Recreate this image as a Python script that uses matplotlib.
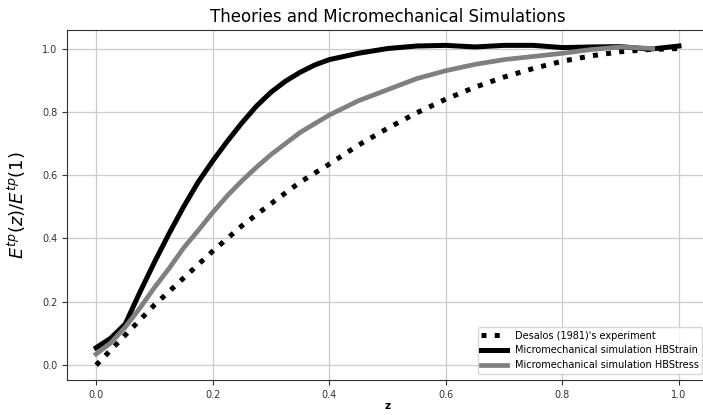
import matplotlib
matplotlib.use('Agg')
import matplotlib.pyplot as plt

# Desalos (1981) experiment
z_exp = [0.0, 0.05, 0.1, 0.15, 0.2, 0.25, 0.3, 0.35, 0.4, 0.45, 0.5,
         0.55, 0.6, 0.65, 0.7, 0.75, 0.8, 0.85, 0.9, 0.95, 1.0]
e_exp = [0.0, 0.095, 0.19, 0.275, 0.36, 0.44, 0.51, 0.578, 0.635, 0.695, 0.748,
         0.797, 0.84, 0.878, 0.91, 0.937, 0.96, 0.977, 0.99, 0.997, 1.0]

# micromechanical simulation, HB strain
z_strain = [0.0, 0.025, 0.05, 0.075, 0.1, 0.125, 0.15, 0.175, 0.2, 0.225, 0.25,
            0.275, 0.3, 0.325, 0.35, 0.375, 0.4, 0.45, 0.5, 0.55, 0.6, 0.65,
            0.7, 0.75, 0.8, 0.85, 0.9, 0.95, 1.0]
e_strain = [0.055, 0.085, 0.13, 0.23, 0.325, 0.415, 0.5, 0.578, 0.645, 0.707, 0.765,
            0.818, 0.862, 0.897, 0.925, 0.948, 0.965, 0.985, 1.0, 1.008, 1.01, 1.005,
            1.01, 1.01, 1.003, 1.005, 1.006, 0.998, 1.008]

# micromechanical simulation, HB stress
z_stress = [0.0, 0.025, 0.05, 0.075, 0.1, 0.125, 0.15, 0.175, 0.2, 0.225, 0.25,
            0.275, 0.3, 0.35, 0.4, 0.45, 0.5, 0.55, 0.6, 0.65, 0.7, 0.75,
            0.8, 0.85, 0.9, 0.955]
e_stress = [0.035, 0.07, 0.12, 0.18, 0.245, 0.305, 0.37, 0.425, 0.482, 0.535, 0.582,
            0.625, 0.665, 0.735, 0.79, 0.835, 0.87, 0.905, 0.93, 0.95, 0.965, 0.975,
            0.985, 0.997, 1.005, 1.0]

fig = plt.figure(figsize=(7.03, 4.15), dpi=100)
ax = fig.add_axes([0.0953, 0.0843, 0.912, 0.843])

ax.plot(z_exp, e_exp, ':', color='black', lw=3.6, label="Desalos (1981)'s experiment")
ax.plot(z_strain, e_strain, '-', color='black', lw=3.6, label='Micromechanical simulation HBStrain')
ax.plot(z_stress, e_stress, '-', color='grey', lw=3.4, label='Micromechanical simulation HBStress')

ax.set_xlim(-0.05, 1.05)
ax.set_ylim(-0.047, 1.058)
ax.set_xticks([0.0, 0.2, 0.4, 0.6, 0.8, 1.0])
ax.set_yticks([0.0, 0.2, 0.4, 0.6, 0.8, 1.0])
ax.tick_params(labelsize=7, colors='#333333')
ax.grid(True, color='#cccccc', lw=0.9)
for s in ax.spines.values():
    s.set_color('#333333')

ax.set_title('Theories and Micromechanical Simulations', fontsize=12)
ax.set_xlabel('z', fontsize=7.5, fontweight='bold', labelpad=1)
ax.set_ylabel(r'$E^{tp}(z)/E^{tp}(1)$', fontsize=13, labelpad=10)
ax.legend(loc='lower right', fontsize=7, handlelength=2.6, borderaxespad=0.6)

fig.savefig('out.png', dpi=100)
